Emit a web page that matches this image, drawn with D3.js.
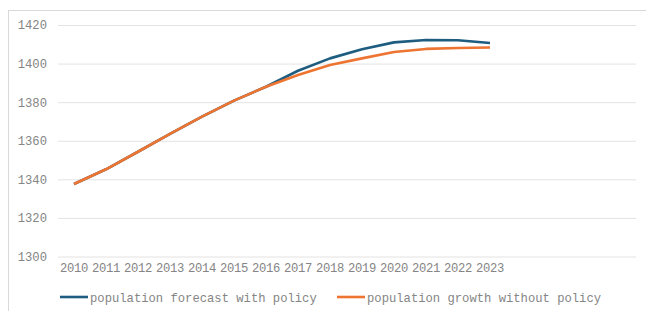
<!DOCTYPE html>
<html>
<head>
<meta charset="utf-8">
<script src="https://cdn.jsdelivr.net/npm/d3@7"></script>
<style>
  body { margin: 0; background: #fff; }
  svg { display: block; font-family: "Liberation Mono", "Courier New", monospace; }
</style>
</head>
<body>
<div id="chart"></div>
<script>
const years = ['2010', '2011', '2012', '2013', '2014', '2015', '2016', '2017', '2018', '2019', '2020', '2021', '2022', '2023'];
const withPolicy = [1337.6, 1345.2, 1354.3, 1363.6, 1372.5, 1380.8, 1388.0, 1396.3, 1402.7, 1407.4, 1411.0, 1412.2, 1412.1, 1410.7];
const withoutPolicy = [1337.6, 1345.2, 1354.3, 1363.6, 1372.5, 1380.8, 1388.0, 1394.1, 1399.3, 1402.7, 1406.0, 1407.6, 1408.1, 1408.3];
const yTicks = [1300, 1320, 1340, 1360, 1380, 1400, 1420];
const seriesNames = ['population forecast with policy', 'population growth without policy'];
const colors = ['#1f5d80', '#ee7431'];

const width = 646;
const height = 311;
const slots = 18; // category slots on the axis, only the first 14 carry data

const svg = d3.select('#chart')
  .append('svg')
  .attr('width', width)
  .attr('height', height);

// chart frame
svg.append('rect')
  .attr('x', 8.5)
  .attr('y', 10.5)
  .attr('width', width + 10)
  .attr('height', height + 10)
  .attr('fill', 'none')
  .attr('stroke', '#d9d9d9');

const xScale = d3.scaleBand()
  .domain(d3.range(slots))
  .range([58, 58 + 32 * slots]);

const yScale = d3.scaleLinear()
  .domain([1300, 1420])
  .range([256.5, 25]);

// gridlines
svg.append('g')
  .attr('transform', 'translate(58, 0)')
  .call(d3.axisLeft(yScale).tickValues(yTicks).tickFormat('').tickSize(-(636 - 58)))
  .call(g => g.select('.domain').remove())
  .call(g => g.selectAll('line').attr('stroke', '#e3e3e3').attr('stroke-width', 1));

// y labels
svg.append('g')
  .attr('transform', 'translate(47, 0)')
  .call(d3.axisLeft(yScale).tickValues(yTicks).tickFormat(d3.format('d')).tickSize(0).tickPadding(0))
  .call(g => g.select('.domain').remove())
  .call(g => g.selectAll('text')
    .attr('fill', '#858585')
    .style('font-size', '12.2px')
    .style('font-family', '"Liberation Mono", monospace'));

// x labels
svg.append('g')
  .attr('transform', 'translate(0, 263)')
  .call(d3.axisBottom(xScale).tickSize(0).tickPadding(0)
    .tickFormat(i => years[i] || ''))
  .call(g => g.select('.domain').remove())
  .call(g => g.selectAll('text')
    .attr('fill', '#858585')
    .attr('letter-spacing', '-0.3px')
    .style('font-size', '12.2px')
    .style('font-family', '"Liberation Mono", monospace'));

const line = d3.line()
  .x((d, i) => xScale(i) + xScale.bandwidth() / 2)
  .y(d => yScale(d));

[withPolicy, withoutPolicy].forEach((values, k) => {
  svg.append('path')
    .datum(values)
    .attr('fill', 'none')
    .attr('stroke', colors[k])
    .attr('stroke-width', 2.6)
    .attr('stroke-linejoin', 'round')
    .attr('d', line);
});

// legend
const legendX = [60, 337];
const legend = svg.append('g');
seriesNames.forEach((name, k) => {
  legend.append('line')
    .attr('x1', legendX[k])
    .attr('x2', legendX[k] + 28)
    .attr('y1', 297)
    .attr('y2', 297)
    .attr('stroke', colors[k])
    .attr('stroke-width', 2.6);
  legend.append('text')
    .attr('x', legendX[k] + 30)
    .attr('y', 301.5)
    .attr('fill', '#858585')
    .style('font-size', '12.2px')
    .text(name);
});
</script>
</body>
</html>
